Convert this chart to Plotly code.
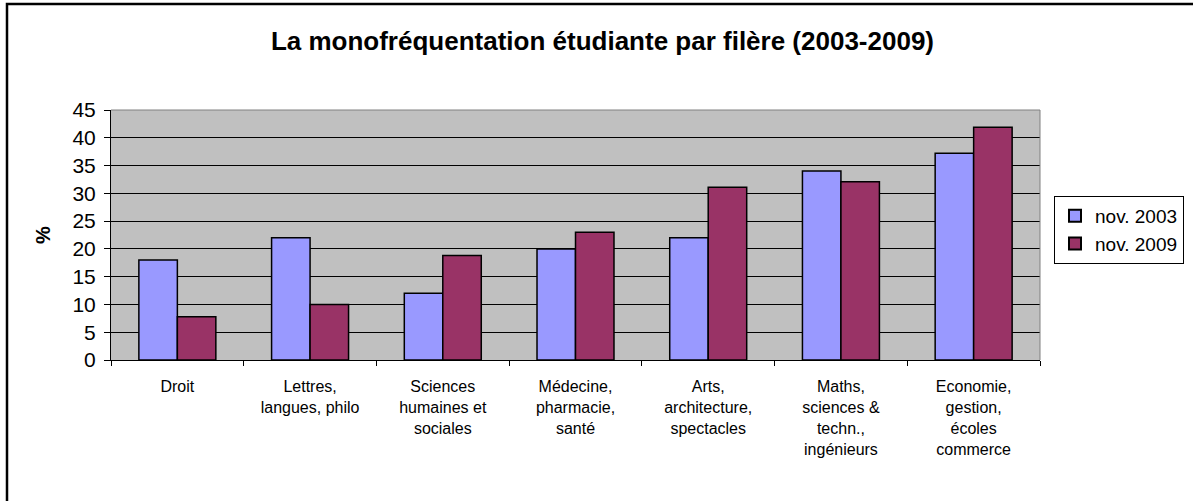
import plotly.graph_objects as go

# Filières et taux de monofréquentation (%)
categories = [
    "Droit",
    "Lettres,<br>langues, philo",
    "Sciences<br>humaines et<br>sociales",
    "Médecine,<br>pharmacie,<br>santé",
    "Arts,<br>architecture,<br>spectacles",
    "Maths,<br>sciences &<br>techn.,<br>ingénieurs",
    "Economie,<br>gestion,<br>écoles<br>commerce",
]
nov_2003 = [18, 22, 12, 20, 22, 34, 37.2]
nov_2009 = [7.8, 10, 18.8, 23, 31.1, 32.1, 41.9]
y_ticks = [0, 5, 10, 15, 20, 25, 30, 35, 40, 45]

FONT = "Arial, 'Liberation Sans', sans-serif"

fig = go.Figure()
fig.add_trace(go.Bar(
    x=categories, y=nov_2003, name="nov. 2003",
    marker=dict(color="#9999FF", line=dict(color="black", width=1.5)),
))
fig.add_trace(go.Bar(
    x=categories, y=nov_2009, name="nov. 2009",
    marker=dict(color="#993366", line=dict(color="black", width=1.5)),
))

W, H = 1193, 501
L, R, T, B = 111, 153, 110, 141
pw, ph = W - L - R, H - T - B

fig.update_layout(
    width=W, height=H,
    margin=dict(l=L, r=R, t=T, b=B, pad=0, autoexpand=False),
    paper_bgcolor="white",
    plot_bgcolor="#C0C0C0",
    barmode="group",
    bargap=0.42,
    bargroupgap=0,
    font=dict(family=FONT, color="black"),
    title=dict(
        text="<b>La monofréquentation étudiante par filère (2003-2009)</b>",
        font=dict(size=26, family=FONT, color="black"),
        x=0.505, xanchor="center", xref="container",
        y=1 - 41 / H, yanchor="middle", yref="container",
    ),
    legend=dict(
        x=(1054 - L) / pw, xanchor="left",
        y=(360 - 196) / ph, yanchor="top",
        bgcolor="white", bordercolor="black", borderwidth=1,
        font=dict(size=19, family=FONT, color="black"),
        itemsizing="constant",
        itemwidth=30,
    ),
    showlegend=True,
)

fig.update_xaxes(
    type="category",
    showline=True, linecolor="black", linewidth=1,
    ticks="outside", tickson="boundaries", ticklen=5, tickcolor="black",
    tickfont=dict(size=16, family=FONT, color="black"),
    ticklabelstandoff=12,
    showgrid=False,
)
fig.update_yaxes(
    range=[0, 45],
    tickvals=y_ticks,
    showline=True, linecolor="black", linewidth=1,
    ticks="outside", ticklen=6, tickcolor="black",
    tickfont=dict(size=21, family=FONT, color="black"),
    ticklabelstandoff=4,
    showgrid=True, gridcolor="black", gridwidth=1,
    zeroline=False,
    title=dict(text="<b>%</b>", font=dict(size=20, family=FONT, color="black"), standoff=16),
)

# Bordure grise du haut et de droite de la zone de tracé
fig.add_shape(type="line", xref="paper", yref="paper", x0=0, x1=1, y0=1, y1=1,
              line=dict(color="#808080", width=1), layer="above")
fig.add_shape(type="line", xref="paper", yref="paper", x0=1, x1=1, y0=0, y1=1,
              line=dict(color="#808080", width=1), layer="above")

# Cadre extérieur du graphique
fig.add_shape(type="rect", xref="paper", yref="paper",
              x0=(7 - L) / pw, x1=(W + 20 - L) / pw,
              y0=-(B + 20) / ph, y1=(360 - 4) / ph,
              line=dict(color="black", width=2.5), fillcolor="rgba(0,0,0,0)", layer="above")

fig.write_html("out.html")
